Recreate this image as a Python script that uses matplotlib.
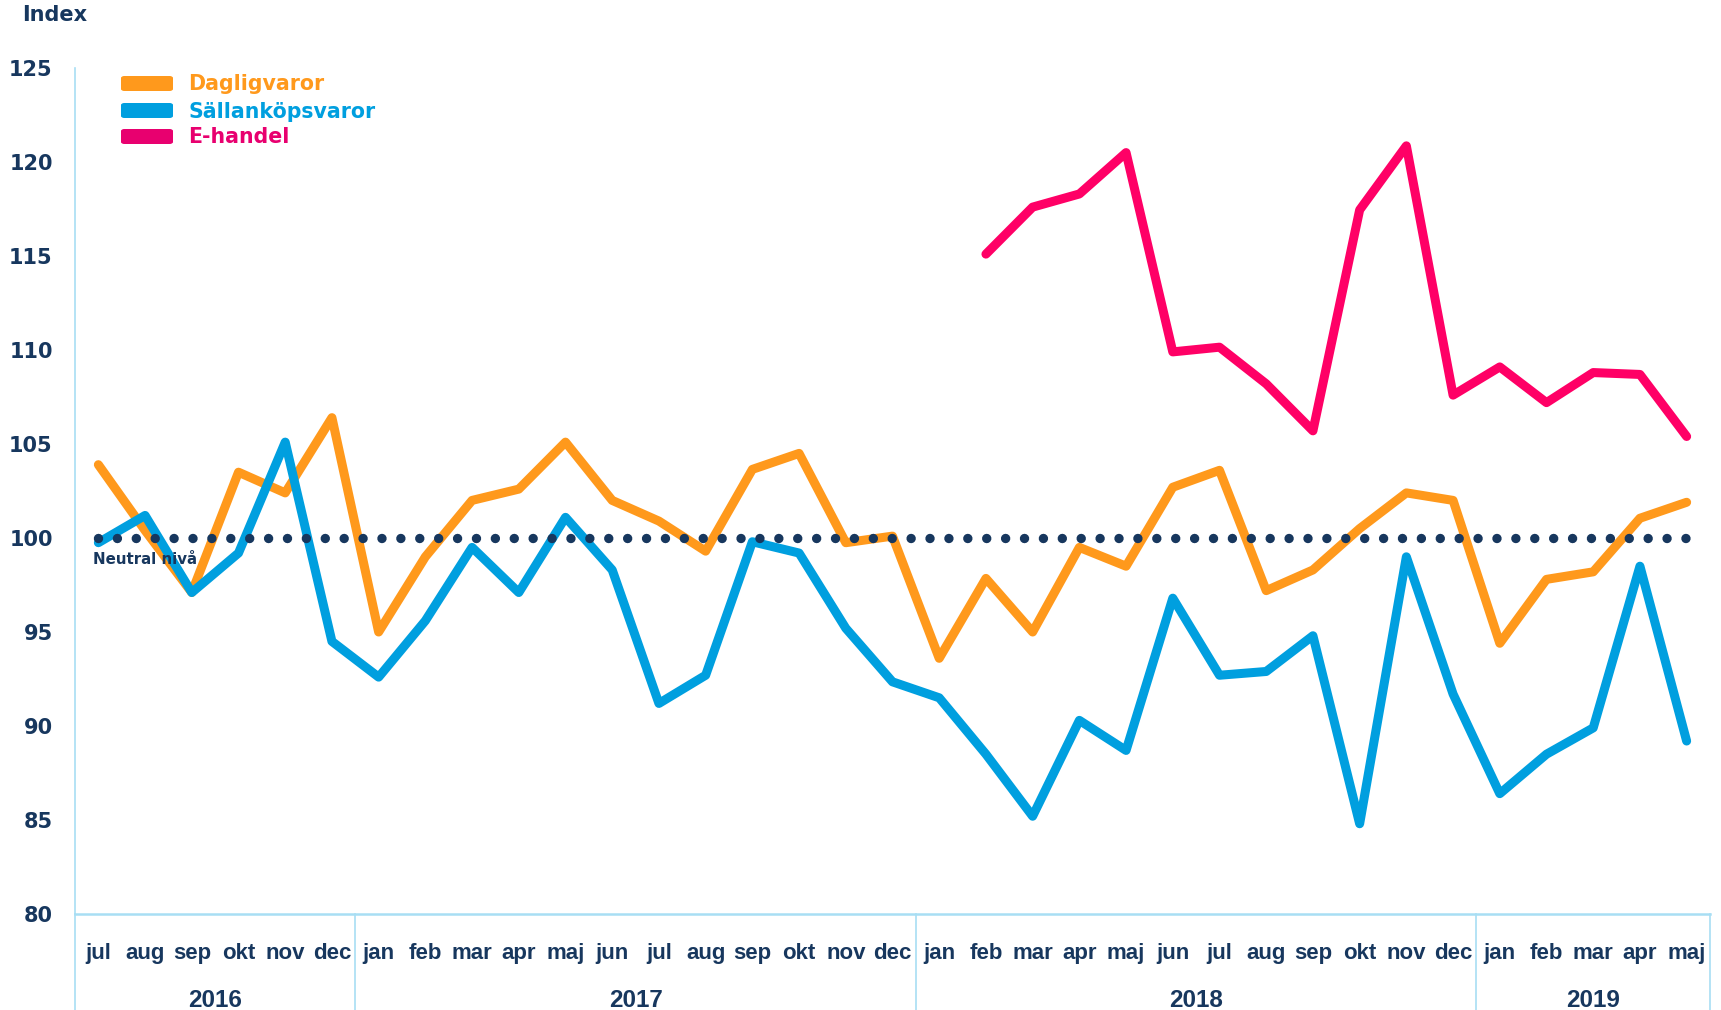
import matplotlib
matplotlib.use("Agg")
import matplotlib.pyplot as plt
from matplotlib.patches import FancyBboxPatch
import numpy as np

months = ["jul", "aug", "sep", "okt", "nov", "dec",
          "jan", "feb", "mar", "apr", "maj", "jun", "jul", "aug", "sep", "okt", "nov", "dec",
          "jan", "feb", "mar", "apr", "maj", "jun", "jul", "aug", "sep", "okt", "nov", "dec",
          "jan", "feb", "mar", "apr", "maj"]
years = ["2016", "2017", "2018", "2019"]
year_counts = [6, 12, 12, 5]

dagligvaror = [103.9, 100.4, 97.1, 103.5, 102.4, 106.4,
               95.0, 99.0, 102.0, 102.6, 105.1, 102.0, 100.9, 99.3, 103.65, 104.5, 99.75, 100.1,
               93.6, 97.85, 95.0, 99.5, 98.5, 102.7, 103.6, 97.2, 98.3, 100.5, 102.4, 102.0,
               94.4, 97.8, 98.2, 101.05, 101.9]
sallankop = [99.75, 101.2, 97.1, 99.2, 105.1, 94.5,
             92.6, 95.6, 99.5, 97.1, 101.1, 98.3, 91.2, 92.7, 99.8, 99.2, 95.2, 92.35,
             91.5, 88.5, 85.2, 90.3, 88.7, 96.8, 92.7, 92.9, 94.8, 84.8, 99.0, 91.7,
             86.4, 88.5, 89.9, 98.5, 89.2]
ehandel = [None] * 19 + [115.1, 117.6, 118.3, 120.5, 109.9, 110.15, 108.2, 105.7, 117.45, 120.86,
                         107.6, 109.1, 107.2, 108.8, 108.7, 105.4]
neutral = 100
yticks = [80, 85, 90, 95, 100, 105, 110, 115, 120, 125]

series_names = ["Dagligvaror", "Sällanköpsvaror", "E-handel"]
line_colors = ["#FF991C", "#009FDF", "#FF0066"]
legend_colors = ["#FF991C", "#009FDF", "#E8006F"]
navy = "#17375E"
sep_color = "#A8DEF4"

W, H = 1721, 1010
fig = plt.figure(figsize=(W / 100, H / 100), dpi=100)
ax = fig.add_axes([75 / W, 1 - 914 / H, (1710 - 75) / W, (914 - 68) / H])

x = np.arange(len(months))
for vals, col in zip([dagligvaror, sallankop], line_colors[:2]):
    ax.plot(x, vals, color=col, lw=6.5, solid_joinstyle="round", solid_capstyle="round", zorder=3)
eh = np.array([np.nan if v is None else v for v in ehandel], dtype=float)
ax.plot(x, eh, color=line_colors[2], lw=6.5, solid_joinstyle="round", solid_capstyle="round", zorder=3)

# neutral dotted line
ax.plot([0, 34.2], [neutral, neutral], color=navy, lw=6.8,
        linestyle=(0, (0.001, 2.0)), dash_capstyle="round", zorder=4)
ax.text(-0.12, 98.85, "Neutral nivå", color=navy, fontsize=10.8,
        fontweight="bold", family="DejaVu Sans", ha="left", va="center", zorder=5)

ax.set_xlim(-0.5, 34.5)
ax.set_ylim(80, 125)
ax.set_yticks(yticks)
ax.set_yticklabels([str(v) for v in yticks], fontsize=15, fontweight="bold",
                   color=navy, family="DejaVu Sans")
ax.tick_params(axis="y", length=0, pad=16)
ax.set_xticks(x)
ax.set_xticklabels(months, fontsize=16, fontweight="bold", color=navy, family="Liberation Sans")
ax.tick_params(axis="x", length=0, pad=21)

for s in ["top", "right"]:
    ax.spines[s].set_visible(False)
ax.spines["left"].set_color(sep_color)
ax.spines["left"].set_linewidth(1.2)
ax.spines["bottom"].set_color(sep_color)
ax.spines["bottom"].set_linewidth(1.8)

trans = ax.get_xaxis_transform()
bounds = np.concatenate([[0], np.cumsum(year_counts)]) - 0.5
for b in bounds:
    ax.plot([b, b], [0, -0.12], color=sep_color, lw=1.2, transform=trans, clip_on=False)
for i, yr in enumerate(years):
    c = (bounds[i] + bounds[i + 1]) / 2
    ax.text(c, -0.1025, yr, transform=trans, ha="center", va="center", fontsize=17.5,
            fontweight="bold", color=navy, family="Liberation Sans")

# legend
legend_y = [83.5, 110.5, 136.5]
text_y = [84, 112, 137]
for name, col, yy, ty in zip(series_names, legend_colors, legend_y, text_y):
    p = FancyBboxPatch((121 / W, 1 - (yy + 7.5) / H), 52 / W, 15 / H,
                       boxstyle="round,pad=0,rounding_size=0.002", transform=fig.transFigure,
                       facecolor=col, edgecolor="none")
    fig.patches.append(p)
    fig.text(188 / W, 1 - ty / H, name, color=col, fontsize=14.8, fontweight="bold",
             family="DejaVu Sans", ha="left", va="center")

fig.text(22 / W, 1 - 15 / H, "Index", color=navy, fontsize=15, fontweight="bold",
         family="DejaVu Sans", ha="left", va="center")

fig.savefig("out.png", dpi=100)
